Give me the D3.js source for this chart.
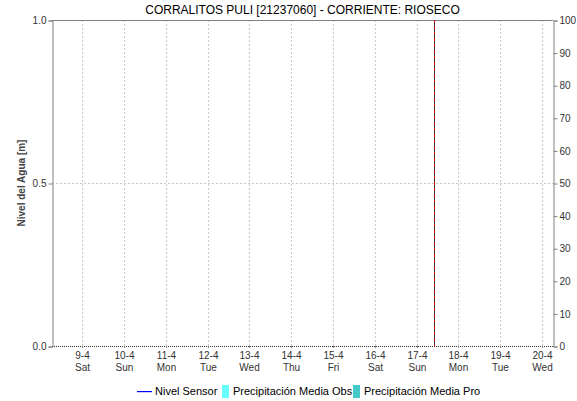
<!DOCTYPE html>
<html>
<head>
<meta charset="utf-8">
<script src="https://cdn.jsdelivr.net/npm/d3@7"></script>
<style>
  body { margin: 0; background: #fff; }
  svg { font-family: "Liberation Sans", Arial, sans-serif; }
</style>
</head>
<body>
<div id="chart-container"></div>
<script>
// data
var title = "CORRALITOS PULI [21237060] - CORRIENTE: RIOSECO";
var yLabel = "Nivel del Agua [m]";
var dayTicks = ["2022-04-09", "2022-04-10", "2022-04-11", "2022-04-12", "2022-04-13", "2022-04-14",
    "2022-04-15", "2022-04-16", "2022-04-17", "2022-04-18", "2022-04-19", "2022-04-20"];
var dayNames = ["Sun", "Mon", "Tue", "Wed", "Thu", "Fri", "Sat"];
var timeDomain = ["2022-04-08T06:45", "2022-04-20T06:15"];
var nowMark = "2022-04-17T09:50";
var levelTicks = [0, 0.5, 1];
var precipTicks = [0, 10, 20, 30, 40, 50, 60, 70, 80, 90, 100];
var nivelSensor = [];   // no readings in this period
var legendItems = [
    { name: "Nivel Sensor", type: "line", color: "#0000ff" },
    { name: "Precipitación Media Obs", type: "box", color: "#66ffff" },
    { name: "Precipitación Media Pro", type: "box", color: "#44c8c8" }
];

var width = 577,
    height = 401,
    margin = { top: 20, right: 24, bottom: 55, left: 52 };

var parseTime = d3.isoParse;

var svg = d3.select("#chart-container").append("svg")
    .attr("width", width)
    .attr("height", height);

var xScale = d3.scaleTime()
    .domain(timeDomain.map(parseTime))
    .range([margin.left, width - margin.right]);

var yScale = d3.scaleLinear()
    .domain([0, 1])
    .range([height - margin.bottom, margin.top]);

var y2Scale = d3.scaleLinear()
    .domain([0, 100])
    .range([height - margin.bottom, margin.top]);

var plotTop = margin.top,
    plotBottom = height - margin.bottom,
    plotLeft = margin.left,
    plotRight = width - margin.right;

// title
svg.append("text")
    .attr("x", (plotLeft + plotRight) / 2)
    .attr("y", 14)
    .attr("text-anchor", "middle")
    .attr("font-size", 12)
    .attr("fill", "#000")
    .text(title);

// vertical grid
svg.append("g")
    .selectAll("line")
    .data(dayTicks.map(parseTime))
    .enter().append("line")
    .attr("x1", d => Math.round(xScale(d)) + 0.5)
    .attr("x2", d => Math.round(xScale(d)) + 0.5)
    .attr("y1", plotTop)
    .attr("y2", plotBottom)
    .attr("stroke", "#c8c8c8")
    .attr("stroke-dasharray", "2,2");

// horizontal grid
svg.append("g")
    .selectAll("line")
    .data(levelTicks.filter(d => d > 0 && d < 1))
    .enter().append("line")
    .attr("x1", plotLeft)
    .attr("x2", plotRight)
    .attr("y1", d => Math.round(yScale(d)) + 0.5)
    .attr("y2", d => Math.round(yScale(d)) + 0.5)
    .attr("stroke", "#c8c8c8")
    .attr("stroke-dasharray", "2,2");

// top border
svg.append("line")
    .attr("x1", plotLeft).attr("x2", plotRight)
    .attr("y1", plotTop + 0.5).attr("y2", plotTop + 0.5)
    .attr("stroke", "#808080");

// bottom dotted baseline
svg.append("line")
    .attr("x1", plotLeft).attr("x2", plotRight)
    .attr("y1", plotBottom + 0.5).attr("y2", plotBottom + 0.5)
    .attr("stroke", "#333")
    .attr("stroke-dasharray", "1,1");

// nivel sensor line (empty)
var line = d3.line()
    .x(d => xScale(parseTime(d.t)))
    .y(d => yScale(d.v));
svg.append("path")
    .datum(nivelSensor)
    .attr("fill", "none")
    .attr("stroke", "#0000ff")
    .attr("d", line);

// now marker
var nx = Math.round(xScale(parseTime(nowMark))) + 0.5;
svg.append("line")
    .attr("x1", nx).attr("x2", nx)
    .attr("y1", plotTop).attr("y2", plotBottom)
    .attr("stroke", "#333");
svg.append("line")
    .attr("x1", nx).attr("x2", nx)
    .attr("y1", plotTop).attr("y2", plotBottom)
    .attr("stroke", "#cc0000")
    .attr("stroke-dasharray", "3,3");

// left axis
var yAxis = d3.axisLeft(yScale)
    .tickValues(levelTicks)
    .tickFormat(d3.format(".1f"))
    .tickSize(4)
    .tickPadding(2);
var gY = svg.append("g")
    .attr("transform", "translate(" + (plotLeft + 0.5) + ",0.5)")
    .call(yAxis);
gY.select(".domain").attr("stroke", "#808080");
gY.selectAll(".tick line").attr("stroke", "#808080");
gY.selectAll("text").attr("font-size", 10).attr("fill", "#333").attr("font-family", "Liberation Sans, Arial, sans-serif");

// right axis
var y2Axis = d3.axisRight(y2Scale)
    .tickValues(precipTicks)
    .tickSize(4)
    .tickPadding(2);
var gY2 = svg.append("g")
    .attr("transform", "translate(" + (plotRight + 0.5) + ",0.5)")
    .call(y2Axis);
gY2.select(".domain").attr("stroke", "#808080");
gY2.selectAll(".tick line").attr("stroke", "#808080");
gY2.selectAll("text").attr("font-size", 10).attr("fill", "#333").attr("font-family", "Liberation Sans, Arial, sans-serif");

// bottom axis labels
var xTicks = svg.append("g")
    .selectAll("g")
    .data(dayTicks.map(parseTime))
    .enter().append("g")
    .attr("transform", d => "translate(" + (Math.round(xScale(d)) + 0.5) + ",0)");
xTicks.append("line")
    .attr("y1", plotBottom)
    .attr("y2", plotBottom + 2)
    .attr("stroke", "#808080");
xTicks.append("text")
    .attr("y", plotBottom + 13)
    .attr("text-anchor", "middle")
    .attr("font-size", 10)
    .attr("fill", "#333")
    .text(d => d3.timeFormat("%-d-%-m")(d));
xTicks.append("text")
    .attr("y", plotBottom + 25)
    .attr("text-anchor", "middle")
    .attr("font-size", 10)
    .attr("fill", "#333")
    .text(d => dayNames[d.getDay()]);

// y label
svg.append("text")
    .attr("transform", "translate(25," + yScale(0.5) + ") rotate(-90)")
    .attr("text-anchor", "middle")
    .attr("font-size", 10)
    .attr("font-weight", "bold")
    .attr("fill", "#444")
    .text(yLabel);

// legend
var legendX = [137, 222, 353];
var legend = svg.append("g")
    .selectAll("g")
    .data(legendItems)
    .enter().append("g")
    .attr("transform", (d, i) => "translate(" + legendX[i] + ",391)");
legend.filter(d => d.type === "line").append("rect")
    .attr("x", 0).attr("y", 0)
    .attr("width", 15).attr("height", 1.2)
    .attr("fill", d => d.color);
legend.filter(d => d.type === "box").append("rect")
    .attr("x", 0).attr("y", -6)
    .attr("width", 7).attr("height", 13)
    .attr("fill", d => d.color);
legend.append("text")
    .attr("x", d => d.type === "line" ? 18 : 11)
    .attr("y", 4)
    .attr("font-size", 11)
    .attr("fill", "#000")
    .text(d => d.name);
</script>
</body>
</html>
